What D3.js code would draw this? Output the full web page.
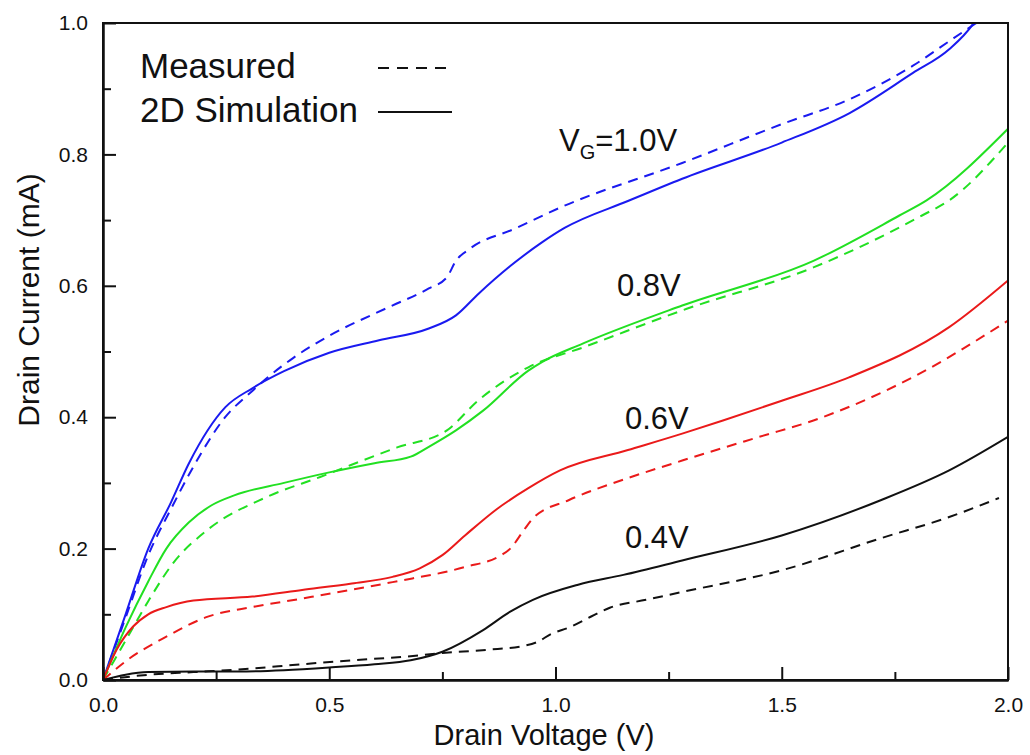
<!DOCTYPE html>
<html>
<head>
<meta charset="utf-8">
<script src="https://cdn.jsdelivr.net/npm/d3@7"></script>
<style>
  html, body { margin: 0; padding: 0; background: #fff; }
  svg text { font-family: "Liberation Sans", Arial, sans-serif; fill: #111; }
</style>
</head>
<body>
<svg id="chart" width="1030" height="755"></svg>
<script>
// ---- Data (Drain Voltage V, Drain Current mA) ----
const vSim10 = [0,0.05,0.1,0.15,0.19,0.27,0.33,0.4,0.5,0.61,0.72,0.78,0.83,0.9,0.97,1.02,1.16,1.28,1.5,1.65,1.79,1.87,1.922,1.95];
const iSim10 = [0,0.1,0.2,0.27,0.33,0.415,0.444,0.47,0.498,0.517,0.535,0.555,0.588,0.63,0.666,0.688,0.729,0.763,0.818,0.863,0.924,0.96,0.998,1.03];
const vMeas10 = [0,0.05,0.1,0.15,0.2,0.27,0.33,0.363,0.42,0.5,0.63,0.72,0.76,0.78,0.81,0.91,1.01,1.28,1.5,1.65,1.79,1.88,1.93];
const iMeas10 = [0,0.095,0.19,0.26,0.325,0.4,0.44,0.46,0.49,0.524,0.567,0.596,0.613,0.638,0.656,0.687,0.719,0.787,0.846,0.884,0.935,0.977,1.0];

const vSim08 = [0,0.05,0.1,0.14,0.19,0.24,0.29,0.4,0.5,0.6,0.68,0.72,0.78,0.84,0.94,0.97,1.06,1.28,1.57,1.76,1.82,2.0];
const iSim08 = [0,0.08,0.15,0.2,0.24,0.266,0.281,0.3,0.316,0.33,0.34,0.355,0.38,0.41,0.471,0.484,0.512,0.57,0.638,0.707,0.73,0.839];
const vMeas08 = [0,0.05,0.1,0.155,0.23,0.36,0.48,0.65,0.76,0.83,0.94,1.06,1.29,1.57,1.81,1.87,2.0];
const iMeas08 = [0,0.06,0.12,0.178,0.228,0.278,0.309,0.354,0.38,0.426,0.476,0.506,0.565,0.628,0.707,0.73,0.818];

const vSim06 = [0,0.03,0.066,0.1,0.14,0.2,0.33,0.44,0.55,0.64,0.7,0.75,0.8,0.87,0.94,1.01,1.16,1.28,1.37,1.5,1.65,1.87,2.0];
const iSim06 = [0,0.046,0.081,0.1,0.111,0.121,0.127,0.137,0.147,0.157,0.17,0.19,0.22,0.26,0.292,0.319,0.35,0.375,0.395,0.425,0.461,0.537,0.608];
const vMeas06 = [0,0.053,0.14,0.23,0.33,0.44,0.64,0.8,0.88,0.9,0.93,0.95,1.03,1.15,1.28,1.45,1.57,1.79,2.0];
const iMeas06 = [0,0.03,0.066,0.096,0.111,0.124,0.149,0.172,0.19,0.2,0.228,0.246,0.274,0.305,0.334,0.37,0.395,0.461,0.547];

const vSim04 = [0,0.05,0.1,0.2,0.3,0.4,0.5,0.6,0.68,0.75,0.84,0.9,0.95,1.05,1.15,1.28,1.5,1.72,1.87,2.0];
const iSim04 = [0,0.008,0.012,0.013,0.013,0.015,0.019,0.024,0.03,0.043,0.076,0.104,0.122,0.145,0.16,0.182,0.22,0.274,0.319,0.37];
const vMeas04 = [0,0.1,0.2,0.3,0.44,0.55,0.66,0.75,0.85,0.93,0.96,0.99,1.03,1.08,1.12,1.2,1.28,1.5,1.72,1.87,1.98];
const iMeas04 = [0,0.008,0.012,0.016,0.024,0.03,0.035,0.041,0.046,0.052,0.058,0.07,0.08,0.097,0.11,0.122,0.134,0.167,0.216,0.248,0.277];

const xTicks = [0, 0.5, 1.0, 1.5, 2.0];
const xMinorTicks = [0.25, 0.75, 1.25, 1.75];
const yTicks = [0, 0.2, 0.4, 0.6, 0.8, 1.0];
const yMinorTicks = [0.1, 0.3, 0.5, 0.7, 0.9];

const seriesColors = ["#1a1af0", "#22e022", "#ea1a1a", "#111111"];
const curveLabels = ["1.0V", "0.8V", "0.6V", "0.4V"];

// ---- Layout ----
const svg = d3.select("#chart");
const L = 103, R = 1008, T = 23, B = 680;
const x = d3.scaleLinear().domain([0, 2]).range([L, R]);
const y = d3.scaleLinear().domain([0, 1]).range([B, T]);

svg.append("defs").append("clipPath").attr("id", "clip")
  .append("rect").attr("x", L).attr("y", T).attr("width", R - L).attr("height", B - T);

const line = d3.line().x(d => x(d[0])).y(d => y(d[1])).curve(d3.curveMonotoneX);

const series = [
  {v: vSim10, i: iSim10, c: 0, dash: false},
  {v: vMeas10, i: iMeas10, c: 0, dash: true},
  {v: vSim08, i: iSim08, c: 1, dash: false},
  {v: vMeas08, i: iMeas08, c: 1, dash: true},
  {v: vSim06, i: iSim06, c: 2, dash: false},
  {v: vMeas06, i: iMeas06, c: 2, dash: true},
  {v: vSim04, i: iSim04, c: 3, dash: false},
  {v: vMeas04, i: iMeas04, c: 3, dash: true}
];

const g = svg.append("g").attr("clip-path", "url(#clip)");
series.forEach(s => {
  g.append("path")
    .datum(s.v.map((v, k) => [v, s.i[k]]))
    .attr("d", line)
    .attr("fill", "none")
    .attr("stroke", seriesColors[s.c])
    .attr("stroke-width", 2)
    .attr("stroke-dasharray", s.dash ? "10,7" : null);
});

// ---- Frame ----
svg.append("rect").attr("x", L).attr("y", T).attr("width", R - L).attr("height", B - T)
  .attr("fill", "none").attr("stroke", "#111").attr("stroke-width", 2);

// ---- Axes ----
const fmt = d3.format(".1f");
const xAxis = svg.append("g").attr("transform", `translate(0,${B})`)
  .call(d3.axisBottom(x).tickValues(xTicks).tickFormat(fmt).tickSizeInner(-13).tickSizeOuter(0).tickPadding(17));
const xMinor = svg.append("g").attr("transform", `translate(0,${B})`)
  .call(d3.axisBottom(x).tickValues(xMinorTicks).tickFormat("").tickSizeInner(-8).tickSizeOuter(0));
const yAxis = svg.append("g").attr("transform", `translate(${L},0)`)
  .call(d3.axisLeft(y).tickValues(yTicks).tickFormat(fmt).tickSizeInner(-13).tickSizeOuter(0).tickPadding(15));
const yMinor = svg.append("g").attr("transform", `translate(${L},0)`)
  .call(d3.axisLeft(y).tickValues(yMinorTicks).tickFormat("").tickSizeInner(-8).tickSizeOuter(0));

[xAxis, xMinor, yAxis, yMinor].forEach(a => {
  a.select(".domain").attr("stroke", "#111").attr("stroke-width", 2);
  a.selectAll(".tick line").attr("stroke", "#111").attr("stroke-width", 2);
  a.selectAll(".tick text").attr("font-size", 21).attr("font-family", "Liberation Sans, Arial, sans-serif").attr("fill", "#222");
});

// ---- Axis titles ----
svg.append("text").attr("x", 544).attr("y", 745).attr("text-anchor", "middle")
  .attr("font-size", 29).text("Drain Voltage (V)");
svg.append("text").attr("transform", "translate(39,300) rotate(-90)").attr("text-anchor", "middle")
  .attr("font-size", 30).text("Drain Current (mA)");

// ---- Legend ----
svg.append("text").attr("x", 140).attr("y", 78).attr("font-size", 35).text("Measured");
svg.append("text").attr("x", 140).attr("y", 122).attr("font-size", 35).text("2D Simulation");
svg.append("line").attr("x1", 378).attr("x2", 452).attr("y1", 68).attr("y2", 68)
  .attr("stroke", "#111").attr("stroke-width", 2).attr("stroke-dasharray", "11,8");
svg.append("line").attr("x1", 378).attr("x2", 452).attr("y1", 112).attr("y2", 112)
  .attr("stroke", "#111").attr("stroke-width", 2);

// ---- Curve labels ----
const vg = svg.append("text").attr("x", 559).attr("y", 151).attr("font-size", 31);
vg.append("tspan").text("V");
vg.append("tspan").attr("font-size", 20).attr("dy", 8).text("G");
vg.append("tspan").attr("dy", -8).text("=" + curveLabels[0]);
svg.append("text").attr("x", 617).attr("y", 296).attr("font-size", 31).text(curveLabels[1]);
svg.append("text").attr("x", 625).attr("y", 429).attr("font-size", 31).text(curveLabels[2]);
svg.append("text").attr("x", 625).attr("y", 548).attr("font-size", 31).text(curveLabels[3]);
</script>
</body>
</html>
